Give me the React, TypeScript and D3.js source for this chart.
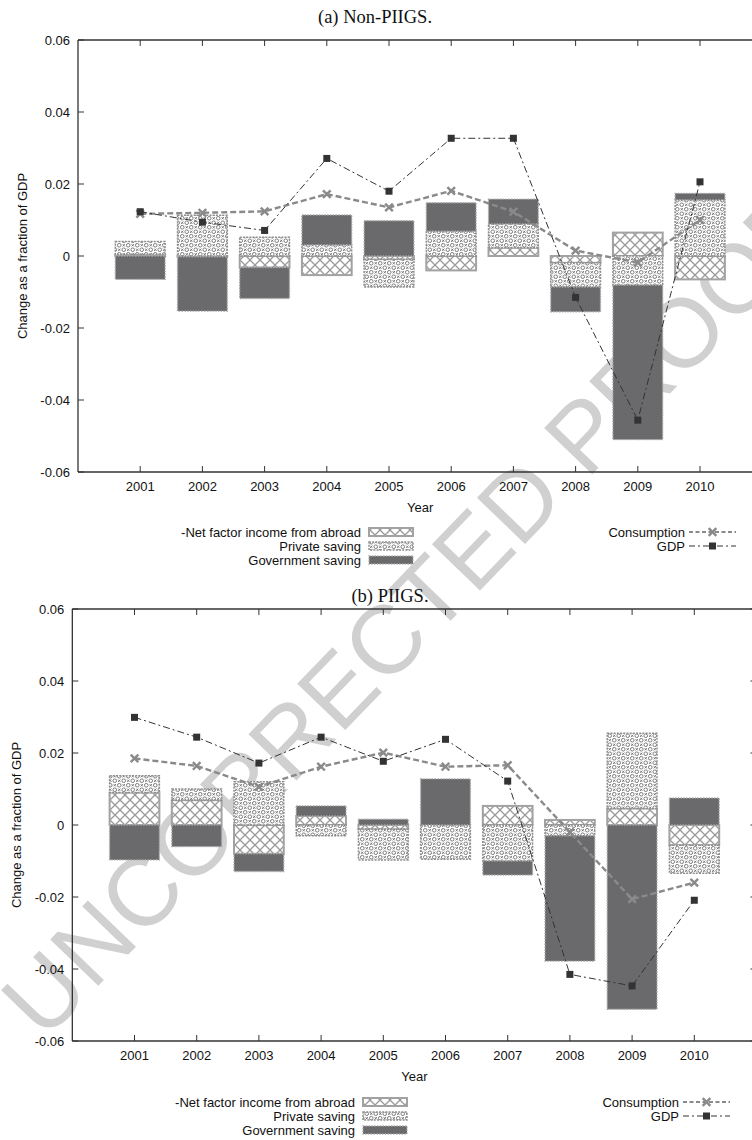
import React from 'react';
import * as d3 from 'd3';

const years = [2001, 2002, 2003, 2004, 2005, 2006, 2007, 2008, 2009, 2010];

// (a) Non-PIIGS
const nonPiigsNFI = [0.0004, -0.0002, -0.0032, -0.0053, -0.001, -0.004, 0.0023, -0.0019, 0.0065, -0.0065];
const nonPiigsPrivate = [0.0036, 0.0113, 0.0052, 0.0031, -0.0076, 0.0069, 0.0066, -0.0067, -0.0081, 0.0156];
const nonPiigsGov = [-0.0065, -0.0151, -0.0086, 0.0083, 0.0098, 0.0079, 0.0069, -0.0069, -0.0429, 0.0018];
const nonPiigsConsumption = [0.0117, 0.012, 0.0124, 0.0172, 0.0135, 0.0181, 0.0123, 0.0015, -0.0018, 0.01];
const nonPiigsGDP = [0.0123, 0.0094, 0.0071, 0.0271, 0.018, 0.0327, 0.0327, -0.0115, -0.0456, 0.0206];

// (b) PIIGS
const piigsNFI = [0.009, 0.0069, -0.008, 0.0025, -0.0012, 0, 0.0053, 0.0014, 0.0046, -0.0056];
const piigsPrivate = [0.0047, 0.0031, 0.012, -0.003, -0.0085, -0.0095, -0.01, -0.003, 0.0209, -0.0078];
const piigsGov = [-0.0097, -0.006, -0.0049, 0.0028, 0.0016, 0.0128, -0.0039, -0.0348, -0.0512, 0.0075];
const piigsConsumption = [0.0185, 0.0164, 0.0106, 0.0162, 0.0201, 0.0162, 0.0166, -0.002, -0.0206, -0.016];
const piigsGDP = [0.0299, 0.0244, 0.0172, 0.0244, 0.0177, 0.0238, 0.0122, -0.0415, -0.0447, -0.0209];

const yTicks = [0.06, 0.04, 0.02, 0, -0.02, -0.04, -0.06];
const yTickLabels = ['0.06', '0.04', '0.02', '0', '-0.02', '-0.04', '-0.06'];

const barSeriesNames = ['-Net factor income from abroad', 'Private saving', 'Government saving'];
const lineSeriesNames = ['Consumption', 'GDP'];

const SANS = 'Liberation Sans, Arial, Helvetica, sans-serif';
const SERIF = 'Liberation Serif, Times New Roman, serif';

const GOV_FILL = '#6a6a6c';
const CONS = '#8a8a8a';
const GDPC = '#333333';

const barFills = ['url(#crossPat)', 'url(#ringPat)', GOV_FILL];
const barStrokes = [
  { stroke: '#a2a2a2', width: 2, dash: undefined as string | undefined },
  { stroke: '#8e8e8e', width: 1.5, dash: '2 1.2' },
  { stroke: '#a8a8a8', width: 1.4, dash: '1.4 1.4' },
];

type PanelProps = {
  axisX: number;
  plotTop: number;
  plotBottom: number;
  title: string;
  titleX: number;
  titleY: number;
  nfi: number[];
  priv: number[];
  gov: number[];
  cons: number[];
  gdp: number[];
  labelX: number;
  legendY: number;
  dx: number;
};

function XMark({ x, y }: { x: number; y: number }) {
  const s = 3.8;
  return (
    <g stroke={CONS} strokeWidth={2.4}>
      <line x1={x - s} y1={y - s} x2={x + s} y2={y + s} />
      <line x1={x - s} y1={y + s} x2={x + s} y2={y - s} />
    </g>
  );
}

function Panel(p: PanelProps) {
  const x = d3.scaleLinear().domain([2000, 2011]).range([p.axisX, p.axisX + 11 * 62.2]);
  const y = d3.scaleLinear().domain([-0.06, 0.06]).range([p.plotBottom, p.plotTop]);
  const bw = 0.8 * (x(2001) - x(2000));
  const right = x(2011);
  const series = [p.nfi, p.priv, p.gov];

  const rects: JSX.Element[] = [];
  years.forEach((yr, i) => {
    let pos = 0;
    let neg = 0;
    series.forEach((s, k) => {
      const v = s[i];
      let a: number, b: number;
      if (v >= 0) {
        a = pos;
        b = pos + v;
        pos = b;
      } else {
        a = neg;
        b = neg + v;
        neg = b;
      }
      const st = barStrokes[k];
      rects.push(
        <rect
          key={`${yr}-${k}`}
          x={x(yr) - bw / 2}
          y={y(Math.max(a, b))}
          width={bw}
          height={Math.abs(y(a) - y(b))}
          fill={barFills[k]}
          stroke={st.stroke}
          strokeWidth={st.width}
          strokeDasharray={st.dash}
        />
      );
    });
  });

  const consLine = d3
    .line<number>()
    .x((_, i) => x(years[i]))
    .y((d) => y(d))(p.cons) as string;
  const gdpLine = d3
    .line<number>()
    .x((_, i) => x(years[i]))
    .y((d) => y(d))(p.gdp) as string;

  const tl = 6;
  const rowY = [p.legendY, p.legendY + 14, p.legendY + 28];
  const lx = 361 + p.dx;
  const sx = 369 + p.dx;
  const rx = 685 + p.dx;
  const rsx = 689 + p.dx;

  return (
    <g>
      <text x={p.titleX} y={p.titleY} textAnchor="middle" fontFamily={SERIF} fontSize={18.5} fill="#111">
        {p.title}
      </text>
      {rects}
      <path d={consLine} fill="none" stroke={CONS} strokeWidth={2.4} strokeDasharray="6 3" />
      {p.cons.map((v, i) => (
        <XMark key={`c${i}`} x={x(years[i])} y={y(v)} />
      ))}
      <path d={gdpLine} fill="none" stroke={GDPC} strokeWidth={1} strokeDasharray="7 3 2 3" />
      {p.gdp.map((v, i) => (
        <rect key={`g${i}`} x={x(years[i]) - 3.5} y={y(v) - 3.5} width={7} height={7} fill={GDPC} />
      ))}
      {/* frame */}
      <line x1={p.axisX} x2={right} y1={p.plotTop} y2={p.plotTop} stroke="#333" strokeWidth={1.6} />
      <line x1={p.axisX} x2={right} y1={p.plotBottom} y2={p.plotBottom} stroke="#333" strokeWidth={1.6} />
      <line x1={p.axisX} x2={p.axisX} y1={p.plotTop} y2={p.plotBottom} stroke="#222" strokeWidth={1.2} />
      <line x1={right} x2={right} y1={p.plotTop} y2={p.plotBottom} stroke="#222" strokeWidth={1.2} />
      {yTicks.map((t, i) => (
        <g key={`yt${i}`}>
          <line x1={p.axisX} x2={p.axisX + tl} y1={y(t)} y2={y(t)} stroke="#333" strokeWidth={1} />
          <line x1={right - tl} x2={right} y1={y(t)} y2={y(t)} stroke="#333" strokeWidth={1} />
          <text
            x={p.axisX - 8}
            y={y(t)}
            textAnchor="end"
            dominantBaseline="central"
            fontFamily={SANS}
            fontSize={13}
            fill="#111"
          >
            {yTickLabels[i]}
          </text>
        </g>
      ))}
      {years.map((yr) => (
        <g key={`xt${yr}`}>
          <line x1={x(yr)} x2={x(yr)} y1={p.plotBottom} y2={p.plotBottom - tl} stroke="#333" strokeWidth={1} />
          <line x1={x(yr)} x2={x(yr)} y1={p.plotTop} y2={p.plotTop + tl} stroke="#333" strokeWidth={1} />
          <text
            x={x(yr)}
            y={p.plotBottom + 14}
            textAnchor="middle"
            dominantBaseline="central"
            fontFamily={SANS}
            fontSize={13}
            fill="#111"
          >
            {yr}
          </text>
        </g>
      ))}
      <text
        x={(p.axisX + right) / 2}
        y={p.plotBottom + 35}
        textAnchor="middle"
        dominantBaseline="central"
        fontFamily={SANS}
        fontSize={13}
        fill="#111"
      >
        Year
      </text>
      <text
        transform={`translate(${p.labelX},${(p.plotTop + p.plotBottom) / 2}) rotate(-90)`}
        textAnchor="middle"
        dominantBaseline="central"
        fontFamily={SANS}
        fontSize={13}
        fill="#111"
      >
        Change as a fraction of GDP
      </text>
      {barSeriesNames.map((n, k) => (
        <g key={`lb${k}`}>
          <text
            x={lx}
            y={rowY[k]}
            textAnchor="end"
            dominantBaseline="central"
            fontFamily={SANS}
            fontSize={13}
            fill="#111"
          >
            {n}
          </text>
          <rect
            x={sx}
            y={rowY[k] - 4}
            width={44}
            height={8}
            fill={barFills[k]}
            stroke={barStrokes[k].stroke}
            strokeWidth={barStrokes[k].width}
            strokeDasharray={barStrokes[k].dash}
          />
        </g>
      ))}
      {lineSeriesNames.map((n, k) => (
        <g key={`ll${k}`}>
          <text
            x={rx}
            y={rowY[k]}
            textAnchor="end"
            dominantBaseline="central"
            fontFamily={SANS}
            fontSize={13}
            fill="#111"
          >
            {n}
          </text>
          {k === 0 ? (
            <g>
              <line x1={rsx} x2={rsx + 47} y1={rowY[k]} y2={rowY[k]} stroke={CONS} strokeWidth={2} strokeDasharray="4 2.5" />
              <XMark x={rsx + 23.5} y={rowY[k]} />
            </g>
          ) : (
            <g>
              <line x1={rsx} x2={rsx + 47} y1={rowY[k]} y2={rowY[k]} stroke={GDPC} strokeWidth={1} strokeDasharray="6 3 2 3" />
              <rect x={rsx + 20} y={rowY[k] - 3.5} width={7} height={7} fill={GDPC} />
            </g>
          )}
        </g>
      ))}
    </g>
  );
}

export default function App() {
  return (
    <svg
      width={752}
      height={1140}
      viewBox="0 0 752 1140"
      style={{ position: 'absolute', left: 0, top: 0, background: '#fff' }}
    >
      <defs>
        <pattern id="crossPat" patternUnits="userSpaceOnUse" width={10} height={10}>
          <rect width={10} height={10} fill="#fff" />
          <path d="M0,0 L10,10 M10,0 L0,10" stroke="#9a9a9a" strokeWidth={1.3} />
        </pattern>
        <pattern id="ringPat" patternUnits="userSpaceOnUse" width={9} height={9}>
          <rect width={9} height={9} fill="#fff" />
          <circle cx={2.25} cy={2.25} r={1.8} fill="none" stroke="#7c7c7c" strokeWidth={1} />
          <circle cx={6.75} cy={6.75} r={1.8} fill="none" stroke="#7c7c7c" strokeWidth={1} />
          <path d="M5.6,1.1 L7.9,3.4 M7.9,1.1 L5.6,3.4 M1.1,5.6 L3.4,7.9 M3.4,5.6 L1.1,7.9" stroke="#7c7c7c" strokeWidth={1} />
        </pattern>
      </defs>
      <rect width={752} height={1140} fill="#fff" />
      <g aria-hidden="true">
        <text
          transform="translate(44,1042) rotate(-46)"
          fontFamily={SANS}
          fontSize={97}
          fill="#d0d0d0"
        >
          UNCORRECTED PROOF
        </text>
      </g>
      <Panel
        axisX={78}
        plotTop={40}
        plotBottom={472}
        title="(a) Non-PIIGS."
        titleX={375}
        titleY={23}
        nfi={nonPiigsNFI}
        priv={nonPiigsPrivate}
        gov={nonPiigsGov}
        cons={nonPiigsConsumption}
        gdp={nonPiigsGDP}
        labelX={22}
        legendY={532}
        dx={0}
      />
      <Panel
        axisX={72.3}
        plotTop={609}
        plotBottom={1041}
        title="(b) PIIGS."
        titleX={390}
        titleY={602}
        nfi={piigsNFI}
        priv={piigsPrivate}
        gov={piigsGov}
        cons={piigsConsumption}
        gdp={piigsGDP}
        labelX={16}
        legendY={1102}
        dx={-6}
      />
    </svg>
  );
}
